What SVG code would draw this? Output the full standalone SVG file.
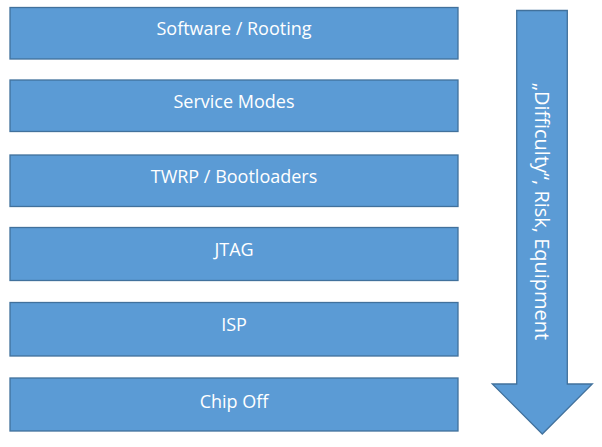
<svg xmlns="http://www.w3.org/2000/svg" width="602" height="447" viewBox="0 0 602 447">
<style>
.box{fill:#5B9BD5;stroke:#41719C;stroke-width:1.3}
.lbl{font-family:"Open Sans","Noto Sans",sans-serif;font-size:18px;fill:#fff;text-anchor:middle;dominant-baseline:central}
.vlbl{font-size:20px}
</style>
<rect width="602" height="447" fill="#fff"/>
<g id="software"><rect class="box" x="10" y="7.5" width="448" height="51.5"/><text class="lbl" x="234" y="28">Software / Rooting</text></g>
<g id="service"><rect class="box" x="10" y="80" width="448" height="51.5"/><text class="lbl" x="234" y="101">Service Modes</text></g>
<g id="twrp"><rect class="box" x="10" y="155" width="448" height="51.5"/><text class="lbl" x="234" y="176">TWRP / Bootloaders</text></g>
<g id="jtag"><rect class="box" x="10" y="227.5" width="448" height="53"/><text class="lbl" x="234" y="249">JTAG</text></g>
<g id="isp"><rect class="box" x="10" y="302.5" width="448" height="53.5"/><text class="lbl" x="234" y="324">ISP</text></g>
<g id="chipoff"><rect class="box" x="10" y="378" width="448" height="53"/><text class="lbl" x="234" y="401">Chip Off</text></g>
<g id="connectors">
<g id="arrow"><path class="box" d="M516.7,10.5 H567.3 V384 H592.3 L542.3,434 L492.3,384 H516.7 Z"/>
<text class="lbl vlbl" transform="translate(542,211.5) rotate(90)" x="0" y="0">„Difficulty“, Risk, Equipment</text></g>
</g>
</svg>
